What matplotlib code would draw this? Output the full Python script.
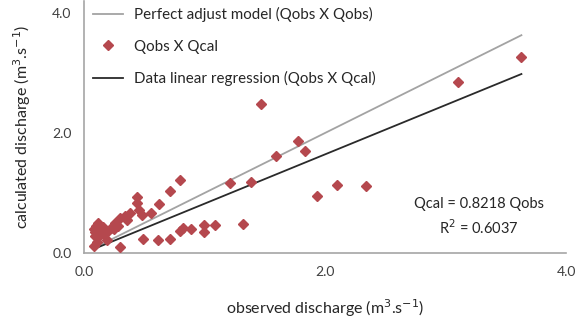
import matplotlib
matplotlib.use("Agg")
import matplotlib.pyplot as plt
import numpy as np

qobs = [3.63, 3.10, 1.47, 1.78, 1.83, 1.59, 1.39, 1.21, 1.93, 2.10, 2.34, 1.32,
        1.09, 1.00, 1.00, 0.89, 0.82, 0.80, 0.71, 0.61, 0.49, 0.30, 0.80, 0.71,
        0.62, 0.56, 0.44, 0.44, 0.46, 0.48, 0.38, 0.34, 0.30, 0.36, 0.26, 0.22,
        0.16, 0.12, 0.13, 0.09, 0.12, 0.16, 0.19, 0.11, 0.08, 0.10, 0.09, 0.14,
        0.20, 0.25, 0.28, 0.08]
qcal = [3.27, 2.85, 2.48, 1.87, 1.70, 1.61, 1.18, 1.17, 0.95, 1.13, 1.12, 0.48,
        0.46, 0.46, 0.35, 0.40, 0.42, 0.36, 0.24, 0.21, 0.23, 0.10, 1.22, 1.04,
        0.82, 0.67, 0.93, 0.83, 0.72, 0.63, 0.67, 0.62, 0.58, 0.55, 0.50, 0.42,
        0.43, 0.50, 0.42, 0.35, 0.27, 0.33, 0.22, 0.18, 0.40, 0.45, 0.28, 0.38,
        0.36, 0.40, 0.45, 0.12]
slope = 0.8218
r2 = 0.6037
ticks = [0.0, 2.0, 4.0]
tick_labels = ["0.0", "2.0", "4.0"]

plt.rcParams['font.family'] = ['Lato', 'DejaVu Sans']

fig = plt.figure(figsize=(5.85, 3.2), dpi=100)
ax = fig.add_axes([84/585, 67/320, 482/585, 252/320])

xr = np.array([min(qobs), max(qobs)])
ax.plot(xr, xr, color='#a3a3a3', lw=1.3, label='Perfect adjust model (Qobs X Qobs)', zorder=2)
ax.plot(qobs, qcal, ls='none', marker='D', ms=5, color='#b5484e', mec='#b5484e',
        label='Qobs X Qcal', zorder=3)
ax.plot(xr, slope * xr, color='#2a2a2a', lw=1.3, label='Data linear regression (Qobs X Qcal)', zorder=2)

ax.set_xlim(0, 4.0)
ax.set_ylim(0, 4.2)
ax.set_xticks(ticks)
ax.set_xticklabels(tick_labels)
ax.set_yticks(ticks)
ax.set_yticklabels(tick_labels)
ax.tick_params(length=0, labelsize=10, colors='#404040', pad=9)
for s in ['top', 'right']:
    ax.spines[s].set_visible(False)
for s in ['left', 'bottom']:
    ax.spines[s].set_color('#a6a6a6')
    ax.spines[s].set_linewidth(1.2)

ax.set_xlabel('observed discharge (m$^3$.s$^{-1}$)', fontsize=11.5, color='#262626', labelpad=14)
ax.set_ylabel('calculated discharge (m$^3$.s$^{-1}$)', fontsize=11.5, color='#262626', labelpad=14)

leg = ax.legend(loc='upper left', bbox_to_anchor=(-0.01, 1.03), frameon=False, fontsize=10.9,
                labelspacing=1.15, handlelength=2.0, handletextpad=0.75, labelcolor='#262626')

ax.text(0.82, 0.194, 'Qcal = 0.8218 Qobs', transform=ax.transAxes, ha='center', va='center',
        fontsize=10.5, color='#262626')
ax.text(0.82, 0.099, 'R$^2$ = 0.6037', transform=ax.transAxes, ha='center', va='center',
        fontsize=10.5, color='#262626')

fig.savefig('out.png', dpi=100)
